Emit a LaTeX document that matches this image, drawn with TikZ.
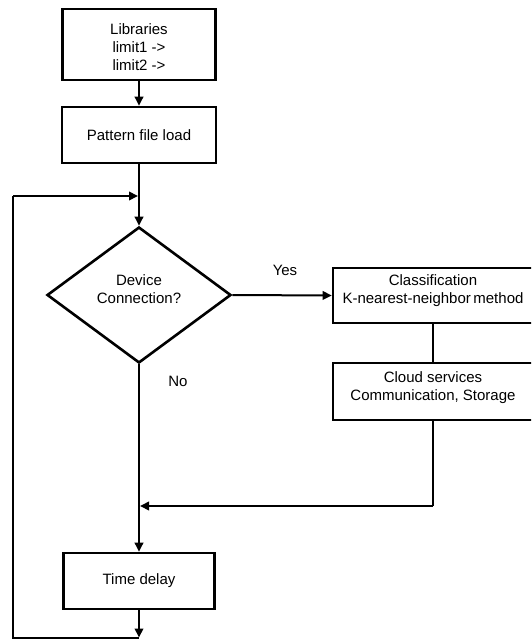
\documentclass[tikz,border=0pt]{standalone}
\usepackage{fontspec}
\setmainfont{Liberation Sans}
\usetikzlibrary{shapes.geometric,arrows.meta}
\begin{document}
\begin{tikzpicture}[x=1pt,y=-1pt,
  txt/.style={font=\fontsize{15}{18}\selectfont, align=center, inner sep=0pt},
  box/.style={draw, line width=2.6pt, inner sep=0pt},
  conn/.style={line width=2pt},
  arr/.style={line width=2pt, -{Triangle[length=9pt,width=8.5pt]}},
]
\useasboundingbox (0,0) rectangle (531,639);
\clip (0,0) rectangle (531,639);
% nodes
\node[box, minimum width=153pt, minimum height=71pt,
  label={[txt, yshift=-3pt]center:{Libraries\\limit1 ->\\limit2 ->}}] (lib) at (139,44.5) {};
\node[box, minimum width=154pt, minimum height=56pt,
  label={[txt]center:{Pattern file load}}] (pat) at (139,135) {};
\node[box, diamond, minimum width=184pt, minimum height=136pt,
  label={[txt, yshift=6pt]center:{Device\\Connection?}}] (dec) at (139,295) {};
\node[box, minimum width=200pt, minimum height=55pt,
  label={[txt, yshift=5pt]center:{Classification\\K-nearest-neighbor\,method}}] (cls) at (433,295.5) {};
\node[box, minimum width=200pt, minimum height=57pt,
  label={[txt, yshift=4pt]center:{Cloud services\\Communication, Storage}}] (cld) at (433,391.5) {};
\node[box, minimum width=151pt, minimum height=56pt,
  label={[txt]center:{Time delay}}] (td) at (139,581) {};
\node[txt] (yes) at (285,270) {Yes};
\node[txt] (no) at (178,381) {No};
% coordinates
\coordinate (mtop) at (138,196);
\coordinate (tl) at (13,196);
\coordinate (bl) at (13,637.5);
\coordinate (bot) at (139,637.5);
\coordinate (merge) at (140,506);
\coordinate (cldturn) at (433,506);
% connectors
\draw[arr] (lib.south) -- (pat.north);
\draw[arr] (pat.south) -- (dec.north);
\draw[arr] (dec.east) -- (cls.west);
\draw[conn] (cls.south) -- (cld.north);
\draw[conn] (cld.south) -- (cldturn);
\draw[arr] (cldturn) -- (merge);
\draw[arr] (dec.south) -- (td.north);
\draw[arr] (td.south) -- (bot);
\draw[conn] (bot) -- (bl) -- (tl);
\draw[arr] (tl) -- (mtop);
\end{tikzpicture}
\end{document}
